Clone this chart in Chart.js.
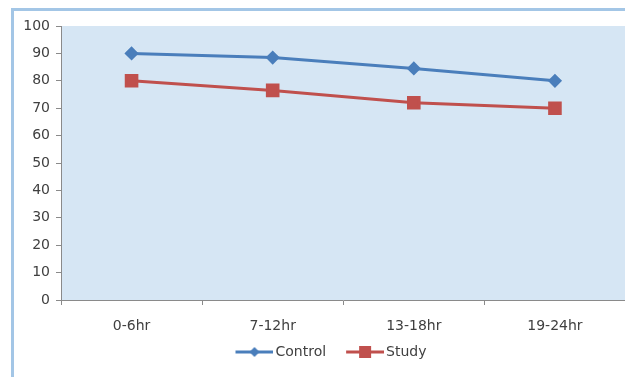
<!DOCTYPE html>
<html>
<head>
<meta charset="utf-8">
<script src="https://cdn.jsdelivr.net/npm/chart.js@4/dist/chart.umd.min.js"></script>
<style>
  html, body { margin: 0; padding: 0; background: #ffffff; overflow: hidden; }
  #wrap { position: relative; width: 625px; height: 377px; overflow: hidden; }
  #frame { position: absolute; left: 11px; top: 8px; right: 0; bottom: 0;
           border-left: 3px solid #a3c6e6; border-top: 3px solid #a3c6e6; pointer-events: none; }
  canvas { position: absolute; left: 0; top: 0; }
</style>
</head>
<body>
<div id="wrap">
  <canvas id="c" width="636" height="377"></canvas>
  <div id="frame"></div>
</div>
<script>
const categories = ["0-6hr", "7-12hr", "13-18hr", "19-24hr"];
const controlValues = [90, 88.5, 84.5, 80];
const studyValues = [80, 76.5, 72, 70];
const yTicks = [0, 10, 20, 30, 40, 50, 60, 70, 80, 90, 100];

const blue = "#4a7ebb";
const red = "#c0504d";
const FONT = "'DejaVu Sans', sans-serif";

// legend icon: transparent left margin, then a 38px line with a marker in its middle
function legendIcon(color, shape) {
  const cv = document.createElement("canvas");
  cv.width = 54; cv.height = 14;
  const g = cv.getContext("2d");
  const x0 = 16, cx = x0 + 19;
  g.strokeStyle = color; g.lineWidth = 3;
  g.beginPath(); g.moveTo(x0, 7); g.lineTo(54, 7); g.stroke();
  g.fillStyle = color;
  if (shape === "diamond") {
    g.beginPath(); g.moveTo(cx, 2); g.lineTo(cx + 5, 7); g.lineTo(cx, 12); g.lineTo(cx - 5, 7); g.closePath(); g.fill();
  } else {
    g.fillRect(cx - 6, 1, 12, 12);
  }
  return cv;
}
const icons = [legendIcon(blue, "diamond"), legendIcon(red, "square")];

const plotBg = {
  id: "plotBg",
  beforeDraw(chart) {
    const a = chart.chartArea, ctx = chart.ctx;
    ctx.save();
    ctx.fillStyle = "#d6e6f4";
    ctx.fillRect(a.left, a.top, a.right - a.left, a.bottom - a.top);
    ctx.restore();
  }
};

new Chart(document.getElementById("c"), {
  type: "line",
  data: {
    labels: categories,
    datasets: [
      { label: "Control", data: controlValues, borderColor: blue, backgroundColor: blue,
        borderWidth: 3, pointStyle: "rectRot", pointRadius: 5, pointHoverRadius: 5, tension: 0 },
      { label: "Study", data: studyValues, borderColor: red, backgroundColor: red,
        borderWidth: 3, pointStyle: "rect", pointRadius: 7.5, pointHoverRadius: 7.5, tension: 0 }
    ]
  },
  options: {
    responsive: false,
    animation: false,
    layout: { padding: { left: 15, right: 0, top: 26, bottom: 8 } },
    plugins: {
      legend: {
        position: "bottom",
        labels: {
          usePointStyle: true,
          pointStyleWidth: 44,
          boxHeight: 12,
          padding: 9,
          color: "#404040",
          font: { family: FONT, size: 14 },
          generateLabels(chart) {
            return chart.data.datasets.map((ds, i) => ({
              text: ds.label, pointStyle: icons[i], fillStyle: ds.borderColor,
              strokeStyle: ds.borderColor, lineWidth: 0, datasetIndex: i, fontColor: "#404040"
            }));
          }
        }
      },
      tooltip: { enabled: false }
    },
    scales: {
      x: {
        offset: true,
        grid: { offset: true, drawOnChartArea: false, drawTicks: true, tickLength: 5, color: "#8a8a8a" },
        border: { color: "#8a8a8a", width: 1 },
        ticks: { color: "#404040", font: { family: FONT, size: 14 }, padding: 13 },
        afterFit(s) { s.height = 36; }
      },
      y: {
        min: 0, max: 100,
        afterBuildTicks(s) { s.ticks = yTicks.map(v => ({ value: v })); },
        grid: { drawOnChartArea: false, drawTicks: true, tickLength: 5, color: "#8a8a8a" },
        border: { color: "#8a8a8a", width: 1 },
        ticks: { color: "#404040", font: { family: FONT, size: 14 }, padding: 6 },
        afterFit(s) { s.width = 46; }
      }
    }
  },
  plugins: [plotBg]
});
</script>
</body>
</html>
